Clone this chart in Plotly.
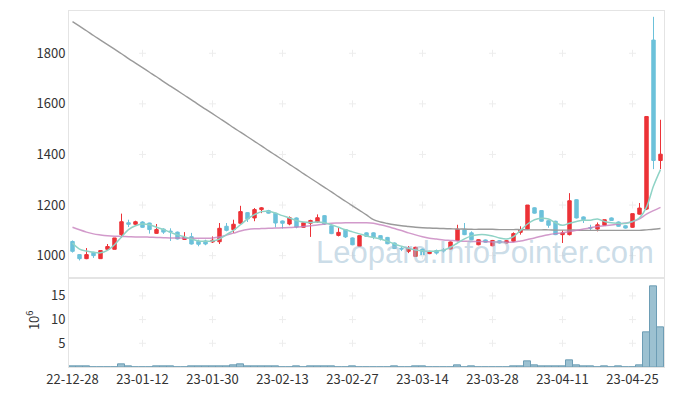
import plotly.graph_objects as go

# ---- data ----
dates = ["22-12-28", "23-01-12", "23-01-30", "23-02-13", "23-02-27",
         "23-03-14", "23-03-28", "23-04-11", "23-04-25"]
tick_pos = [0, 10, 20, 30, 40, 50, 60, 70, 80]

opens = [1056, 1004, 988, 1013, 988, 1025, 1025, 1083, 1130, 1124,
         1133, 1129, 1088, 1105, 1097, 1093, 1064, 1075, 1057, 1058,
         1054, 1055, 1116, 1103, 1128, 1170, 1149, 1182, 1178, 1168,
         1137, 1125, 1149, 1112, 1128, 1133, 1158, 1118, 1080, 1103,
         1070, 1037, 1090, 1090, 1079, 1072, 1050, 1029, 1017, 997,
         1026, 1008, 1020, 1022, 1026, 1060, 1103, 1090, 1043, 1062,
         1039, 1059, 1050, 1057, 1092, 1105, 1189, 1178, 1138, 1136,
         1083, 1083, 1221, 1153, 1111, 1105, 1120, 1149, 1133, 1118,
         1112, 1164, 1184, 1852, 1376]
highs = [1060, 1006, 1030, 1015, 1020, 1046, 1070, 1166, 1142, 1138,
         1136, 1130, 1125, 1108, 1108, 1095, 1093, 1090, 1063, 1063,
         1076, 1129, 1129, 1142, 1197, 1172, 1188, 1192, 1181, 1170,
         1139, 1155, 1151, 1132, 1142, 1163, 1160, 1120, 1109, 1105,
         1072, 1080, 1092, 1092, 1081, 1074, 1052, 1038, 1038, 1035,
         1028, 1019, 1024, 1030, 1056, 1122, 1129, 1096, 1065, 1064,
         1062, 1061, 1061, 1092, 1116, 1200, 1191, 1180, 1140, 1138,
         1100, 1247, 1223, 1155, 1122, 1131, 1142, 1151, 1135, 1120,
         1166, 1208, 1550, 1944, 1537]
lows = [1012, 981, 986, 991, 988, 1021, 1025, 1070, 1113, 1120,
        1110, 1087, 1086, 1086, 1058, 1064, 1062, 1044, 1037, 1041,
        1050, 1046, 1096, 1090, 1124, 1133, 1136, 1168, 1166, 1112,
        1107, 1120, 1108, 1110, 1074, 1129, 1122, 1085, 1076, 1070,
        1041, 1035, 1074, 1065, 1060, 1045, 1026, 1018, 1010, 995,
        998, 1006, 1004, 1012, 1024, 1057, 1081, 1061, 1041, 1051,
        1037, 1048, 1048, 1055, 1083, 1103, 1166, 1134, 1110, 1081,
        1050, 1080, 1147, 1129, 1100, 1096, 1118, 1137, 1114, 1107,
        1110, 1162, 1180, 1342, 1342]
closes = [1017, 988, 1004, 1000, 1020, 1036, 1070, 1134, 1124, 1134,
          1112, 1103, 1103, 1093, 1094, 1066, 1072, 1046, 1045, 1046,
          1061, 1108, 1100, 1124, 1174, 1145, 1182, 1189, 1168, 1129,
          1128, 1150, 1113, 1130, 1139, 1150, 1125, 1087, 1092, 1074,
          1043, 1079, 1076, 1073, 1066, 1047, 1028, 1026, 1030, 1033,
          1000, 1017, 1010, 1019, 1054, 1105, 1083, 1063, 1063, 1053,
          1060, 1050, 1059, 1087, 1103, 1200, 1168, 1136, 1120, 1083,
          1090, 1217, 1149, 1142, 1109, 1122, 1142, 1139, 1116, 1109,
          1166, 1188, 1550, 1376, 1401]

ma_short = [1050, 1026, 1018, 1013, 1011, 1021, 1043, 1074, 1103, 1118,
            1125, 1122, 1112, 1103, 1092, 1082, 1074, 1066, 1058, 1057,
            1058, 1066, 1083, 1100, 1122, 1145, 1162, 1174, 1175, 1168,
            1158, 1149, 1139, 1133, 1131, 1133, 1130, 1122, 1112, 1102,
            1094, 1086, 1078, 1072, 1066, 1057, 1046, 1037, 1029, 1022,
            1019, 1017, 1018, 1022, 1033, 1050, 1066, 1078, 1083, 1083,
            1078, 1070, 1066, 1075, 1100, 1125, 1142, 1148, 1145, 1130,
            1120, 1128, 1135, 1140, 1140, 1145, 1135, 1130, 1128, 1127,
            1135, 1150, 1192, 1275, 1340]
ma_mid = [1112, 1102, 1093, 1086, 1082, 1079, 1077, 1076, 1075, 1074,
          1074, 1073, 1072, 1071, 1070, 1070, 1069, 1069, 1069, 1069,
          1070, 1074, 1081, 1089, 1097, 1103, 1106, 1107, 1108, 1109,
          1110, 1111, 1113, 1115, 1118, 1121, 1125, 1128, 1129, 1130,
          1130, 1130, 1130, 1128, 1122, 1115, 1107, 1099, 1090, 1082,
          1075, 1069, 1066, 1062, 1060, 1058, 1057, 1056, 1056, 1055,
          1054, 1054, 1053, 1053, 1058, 1064, 1070, 1077, 1083, 1087,
          1090, 1095, 1100, 1105, 1110, 1115, 1118, 1121, 1125, 1129,
          1134, 1145, 1164, 1178, 1191]
ma_long = [1925, 1907, 1889, 1870, 1852, 1834, 1816, 1798, 1779, 1761,
           1743, 1725, 1707, 1688, 1670, 1652, 1634, 1616, 1597, 1579,
           1561, 1543, 1525, 1506, 1488, 1470, 1452, 1434, 1415, 1397,
           1379, 1361, 1343, 1324, 1306, 1288, 1270, 1252, 1233, 1215,
           1197, 1179, 1161, 1142, 1133, 1127, 1122, 1118, 1115, 1112,
           1110, 1109, 1108, 1107, 1106, 1105, 1105, 1104, 1104, 1104,
           1104, 1103, 1103, 1103, 1103, 1102, 1102, 1102, 1102, 1101,
           1101, 1101, 1101, 1100, 1100, 1100, 1100, 1100, 1100, 1100,
           1100, 1100, 1102, 1104, 1107]

volume_m = [0.1, 0.1, 0.1, 0, 0, 0, 0, 0.5, 0.1, 0,
            0, 0, 0.1, 0.1, 0.1, 0, 0, 0.1, 0.1, 0.1,
            0.1, 0.1, 0.1, 0.28, 0.55, 0.1, 0.1, 0.1, 0.1, 0.1,
            0, 0, 0.1, 0, 0.1, 0.1, 0.1, 0.1, 0, 0,
            0.1, 0, 0, 0, 0, 0, 0.1, 0, 0, 0.1,
            0.1, 0, 0, 0, 0, 0.35, 0, 0.1, 0, 0,
            0, 0, 0, 0.1, 0.1, 1.2, 0.35, 0.1, 0.1, 0.1,
            0.1, 1.4, 0.35, 0.1, 0.1, 0, 0.1, 0, 0.1, 0,
            0, 0.35, 7.3, 17.1, 8.4]

price_ticks = [1000, 1200, 1400, 1600, 1800]
vol_ticks = [5, 10, 15]

idx = list(range(len(closes)))

RED = "#ec3237"
BLUE = "#6cc1da"
FONT = "Noto Sans CJK KR"

fig = go.Figure()

# grid "+" marks
gx = [t for t in tick_pos[1:] for _ in price_ticks]
gy = [p for _ in tick_pos[1:] for p in price_ticks]
fig.add_trace(go.Scatter(x=gx, y=gy, mode="markers", xaxis="x", yaxis="y",
                         marker=dict(symbol="cross-thin", size=5,
                                     line=dict(width=1, color="#ededed")),
                         hoverinfo="skip", showlegend=False))
gx2 = [t for t in tick_pos[1:] for _ in vol_ticks]
gy2 = [v for _ in tick_pos[1:] for v in vol_ticks]
fig.add_trace(go.Scatter(x=gx2, y=gy2, mode="markers", xaxis="x2", yaxis="y2",
                         marker=dict(symbol="cross-thin", size=5,
                                     line=dict(width=1, color="#ededed")),
                         hoverinfo="skip", showlegend=False))

fig.add_trace(go.Candlestick(
    x=idx, open=opens, high=highs, low=lows, close=closes,
    xaxis="x", yaxis="y",
    increasing=dict(line=dict(color=RED, width=1), fillcolor=RED),
    decreasing=dict(line=dict(color=BLUE, width=1), fillcolor=BLUE),
    showlegend=False))

fig.add_trace(go.Scatter(x=idx, y=ma_long, mode="lines", xaxis="x", yaxis="y",
                         line=dict(color="#9a9a9a", width=1.4, shape="spline"),
                         showlegend=False))
fig.add_trace(go.Scatter(x=idx, y=ma_mid, mode="lines", xaxis="x", yaxis="y",
                         line=dict(color="#c882bf", width=1.5, shape="spline"),
                         opacity=0.8, showlegend=False))
fig.add_trace(go.Scatter(x=idx, y=ma_short, mode="lines", xaxis="x", yaxis="y",
                         line=dict(color="#8fd3c6", width=1.5, shape="spline"),
                         showlegend=False))

fig.add_trace(go.Bar(x=idx, y=volume_m, xaxis="x2", yaxis="y2",
                     marker=dict(color="#9cc1d1",
                                 line=dict(color="#6d9db5", width=1)),
                     showlegend=False))

axis_common = dict(showline=True, linecolor="#e4e4e4", linewidth=1, mirror=True,
                   showgrid=False, zeroline=False, ticks="", automargin=False,
                   tickfont=dict(family=FONT, size=13, color="#333333"))
x_common = {k: v for k, v in axis_common.items() if k != "tickfont"}

fig.update_layout(
    width=673, height=396,
    margin=dict(l=69, r=9, t=11, b=29, autoexpand=False),
    paper_bgcolor="white", plot_bgcolor="white",
    showlegend=False, bargap=0,
    xaxis=dict(domain=[0, 1], anchor="y", range=[-0.5, 84.5],
               showticklabels=False, rangeslider=dict(visible=False),
               **x_common),
    yaxis=dict(domain=[0.251, 1], anchor="x", range=[913, 1967],
               tickvals=price_ticks, **axis_common),
    xaxis2=dict(domain=[0, 1], anchor="y2", range=[-0.5, 84.5],
                tickvals=tick_pos, ticktext=dates, **axis_common),
    yaxis2=dict(domain=[0, 0.249], anchor="x2", range=[0, 18.7],
                tickvals=vol_ticks, **axis_common),
    annotations=[
        dict(text="Leopard.InfoPointer.com", xref="paper", yref="paper",
             x=0.699, y=0.323, xanchor="center", yanchor="middle",
             showarrow=False,
             font=dict(family="Liberation Sans", size=31,
                       color="rgba(160,192,213,0.55)")),
        dict(text="10<sup>6</sup>", xref="paper", yref="paper",
             x=-0.062, y=0.132, xanchor="center", yanchor="middle",
             textangle=-90, showarrow=False,
             font=dict(family=FONT, size=13, color="#333333")),
    ],
)

fig.write_html("out.html",
               config={"displayModeBar": False},
               post_script="document.body.style.margin='0';"
                           "document.body.style.overflow='hidden';")
